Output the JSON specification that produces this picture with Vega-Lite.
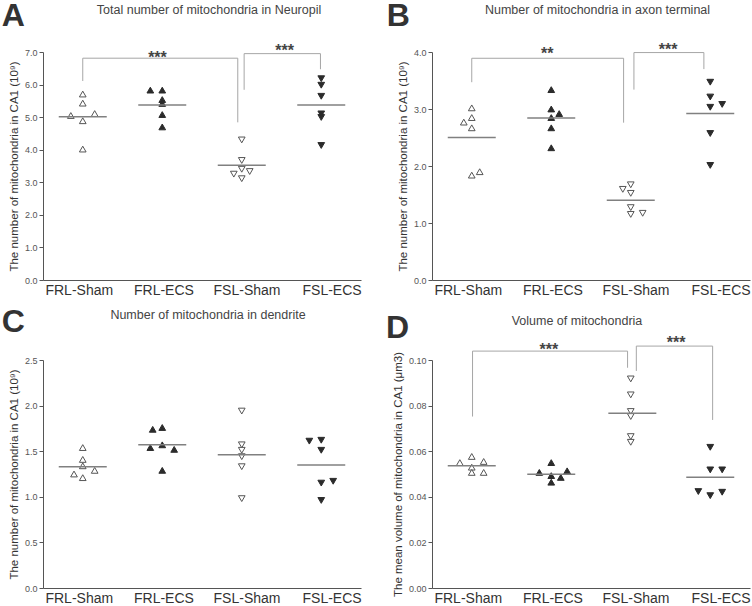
{
  "$schema": "https://vega.github.io/schema/vega-lite/v6.json",
  "padding": {"left": 1, "top": 0, "right": 0, "bottom": 0},
  "background": "white",
  "bounds": "flush",
  "columns": 2,
  "spacing": {"row": 80, "column": 71},
  "config": {
    "font": "Liberation Sans",
    "view": {"stroke": null},
    "title": {"fontSize": 12.5, "fontWeight": "normal", "color": "#444", "anchor": "middle", "frame": "group", "offset": -16},
    "axis": {"grid": false, "domainColor": "#555", "tickColor": "#555", "labelColor": "#555", "labelFont": "Liberation Sans", "titleFont": "Liberation Sans"},
    "axisY": {"labelFontSize": 9, "tickSize": 4, "labelPadding": 2, "titleFontSize": 11.5, "titleFontWeight": "normal", "titleColor": "#333", "titlePadding": 5, "labelOverlap": false, "labelBound": false},
    "axisX": {"ticks": false, "labelFontSize": 14, "labelColor": "#333", "labelPadding": 3, "labelFlush": false, "labelOverlap": false}
  },
  "datasets": {
    "points": [
      {"panel": "A", "group": "FRL-Sham", "x": 1.0, "v": 5.71},
      {"panel": "A", "group": "FRL-Sham", "x": 1.0, "v": 5.43},
      {"panel": "A", "group": "FRL-Sham", "x": 0.85, "v": 5.05},
      {"panel": "A", "group": "FRL-Sham", "x": 1.15, "v": 5.11},
      {"panel": "A", "group": "FRL-Sham", "x": 1.0, "v": 4.89},
      {"panel": "A", "group": "FRL-Sham", "x": 1.0, "v": 4.02},
      {"panel": "A", "group": "FRL-ECS", "x": 1.85, "v": 5.83},
      {"panel": "A", "group": "FRL-ECS", "x": 2.0, "v": 5.83},
      {"panel": "A", "group": "FRL-ECS", "x": 2.0, "v": 5.54},
      {"panel": "A", "group": "FRL-ECS", "x": 2.0, "v": 5.42},
      {"panel": "A", "group": "FRL-ECS", "x": 2.0, "v": 5.08},
      {"panel": "A", "group": "FRL-ECS", "x": 2.0, "v": 4.7},
      {"panel": "A", "group": "FSL-Sham", "x": 3.0, "v": 4.3},
      {"panel": "A", "group": "FSL-Sham", "x": 3.0, "v": 3.67},
      {"panel": "A", "group": "FSL-Sham", "x": 3.0, "v": 3.4},
      {"panel": "A", "group": "FSL-Sham", "x": 3.1, "v": 3.33},
      {"panel": "A", "group": "FSL-Sham", "x": 2.9, "v": 3.25},
      {"panel": "A", "group": "FSL-Sham", "x": 3.0, "v": 3.11},
      {"panel": "A", "group": "FSL-ECS", "x": 4.0, "v": 6.18},
      {"panel": "A", "group": "FSL-ECS", "x": 4.0, "v": 5.98},
      {"panel": "A", "group": "FSL-ECS", "x": 4.0, "v": 5.64},
      {"panel": "A", "group": "FSL-ECS", "x": 4.0, "v": 5.1},
      {"panel": "A", "group": "FSL-ECS", "x": 4.0, "v": 4.99},
      {"panel": "A", "group": "FSL-ECS", "x": 4.0, "v": 4.13},
      {"panel": "B", "group": "FRL-Sham", "x": 1.0, "v": 3.02},
      {"panel": "B", "group": "FRL-Sham", "x": 1.0, "v": 2.85},
      {"panel": "B", "group": "FRL-Sham", "x": 0.9, "v": 2.77},
      {"panel": "B", "group": "FRL-Sham", "x": 1.0, "v": 2.67},
      {"panel": "B", "group": "FRL-Sham", "x": 1.0, "v": 1.84},
      {"panel": "B", "group": "FRL-Sham", "x": 1.1, "v": 1.9},
      {"panel": "B", "group": "FRL-ECS", "x": 2.0, "v": 3.34},
      {"panel": "B", "group": "FRL-ECS", "x": 2.0, "v": 3.0},
      {"panel": "B", "group": "FRL-ECS", "x": 2.1, "v": 2.92},
      {"panel": "B", "group": "FRL-ECS", "x": 2.0, "v": 2.85},
      {"panel": "B", "group": "FRL-ECS", "x": 2.0, "v": 2.67},
      {"panel": "B", "group": "FRL-ECS", "x": 2.0, "v": 2.32},
      {"panel": "B", "group": "FSL-Sham", "x": 3.0, "v": 1.67},
      {"panel": "B", "group": "FSL-Sham", "x": 2.9, "v": 1.59},
      {"panel": "B", "group": "FSL-Sham", "x": 3.0, "v": 1.52},
      {"panel": "B", "group": "FSL-Sham", "x": 3.0, "v": 1.27},
      {"panel": "B", "group": "FSL-Sham", "x": 3.0, "v": 1.15},
      {"panel": "B", "group": "FSL-Sham", "x": 3.15, "v": 1.17},
      {"panel": "B", "group": "FSL-ECS", "x": 4.0, "v": 3.47},
      {"panel": "B", "group": "FSL-ECS", "x": 4.0, "v": 3.21},
      {"panel": "B", "group": "FSL-ECS", "x": 4.0, "v": 3.03},
      {"panel": "B", "group": "FSL-ECS", "x": 4.15, "v": 3.08},
      {"panel": "B", "group": "FSL-ECS", "x": 4.0, "v": 2.57},
      {"panel": "B", "group": "FSL-ECS", "x": 4.0, "v": 2.01},
      {"panel": "C", "group": "FRL-Sham", "x": 1.0, "v": 1.54},
      {"panel": "C", "group": "FRL-Sham", "x": 1.0, "v": 1.41},
      {"panel": "C", "group": "FRL-Sham", "x": 1.0, "v": 1.34},
      {"panel": "C", "group": "FRL-Sham", "x": 0.89, "v": 1.25},
      {"panel": "C", "group": "FRL-Sham", "x": 1.0, "v": 1.21},
      {"panel": "C", "group": "FRL-Sham", "x": 1.15, "v": 1.29},
      {"panel": "C", "group": "FRL-ECS", "x": 1.88, "v": 1.74},
      {"panel": "C", "group": "FRL-ECS", "x": 2.0, "v": 1.76},
      {"panel": "C", "group": "FRL-ECS", "x": 1.85, "v": 1.54},
      {"panel": "C", "group": "FRL-ECS", "x": 2.0, "v": 1.57},
      {"panel": "C", "group": "FRL-ECS", "x": 2.15, "v": 1.52},
      {"panel": "C", "group": "FRL-ECS", "x": 2.0, "v": 1.29},
      {"panel": "C", "group": "FSL-Sham", "x": 3.0, "v": 1.94},
      {"panel": "C", "group": "FSL-Sham", "x": 3.0, "v": 1.57},
      {"panel": "C", "group": "FSL-Sham", "x": 3.0, "v": 1.51},
      {"panel": "C", "group": "FSL-Sham", "x": 3.0, "v": 1.44},
      {"panel": "C", "group": "FSL-Sham", "x": 3.0, "v": 1.33},
      {"panel": "C", "group": "FSL-Sham", "x": 3.0, "v": 0.98},
      {"panel": "C", "group": "FSL-ECS", "x": 3.85, "v": 1.61},
      {"panel": "C", "group": "FSL-ECS", "x": 4.0, "v": 1.62},
      {"panel": "C", "group": "FSL-ECS", "x": 4.0, "v": 1.51},
      {"panel": "C", "group": "FSL-ECS", "x": 4.0, "v": 1.15},
      {"panel": "C", "group": "FSL-ECS", "x": 4.15, "v": 1.17},
      {"panel": "C", "group": "FSL-ECS", "x": 4.0, "v": 0.96},
      {"panel": "D", "group": "FRL-Sham", "x": 0.85, "v": 0.055},
      {"panel": "D", "group": "FRL-Sham", "x": 1.0, "v": 0.0577},
      {"panel": "D", "group": "FRL-Sham", "x": 1.15, "v": 0.0555},
      {"panel": "D", "group": "FRL-Sham", "x": 1.0, "v": 0.053},
      {"panel": "D", "group": "FRL-Sham", "x": 1.0, "v": 0.0507},
      {"panel": "D", "group": "FRL-Sham", "x": 1.15, "v": 0.0507},
      {"panel": "D", "group": "FRL-ECS", "x": 1.85, "v": 0.0507},
      {"panel": "D", "group": "FRL-ECS", "x": 2.0, "v": 0.055},
      {"panel": "D", "group": "FRL-ECS", "x": 2.0, "v": 0.0493},
      {"panel": "D", "group": "FRL-ECS", "x": 2.12, "v": 0.0485},
      {"panel": "D", "group": "FRL-ECS", "x": 2.2, "v": 0.0514},
      {"panel": "D", "group": "FRL-ECS", "x": 2.0, "v": 0.0464},
      {"panel": "D", "group": "FSL-Sham", "x": 3.0, "v": 0.0917},
      {"panel": "D", "group": "FSL-Sham", "x": 3.0, "v": 0.0847},
      {"panel": "D", "group": "FSL-Sham", "x": 3.0, "v": 0.0774},
      {"panel": "D", "group": "FSL-Sham", "x": 3.0, "v": 0.0752},
      {"panel": "D", "group": "FSL-Sham", "x": 3.0, "v": 0.0664},
      {"panel": "D", "group": "FSL-Sham", "x": 3.0, "v": 0.0639},
      {"panel": "D", "group": "FSL-ECS", "x": 4.0, "v": 0.0617},
      {"panel": "D", "group": "FSL-ECS", "x": 4.0, "v": 0.0518},
      {"panel": "D", "group": "FSL-ECS", "x": 4.15, "v": 0.0518},
      {"panel": "D", "group": "FSL-ECS", "x": 3.85, "v": 0.0423},
      {"panel": "D", "group": "FSL-ECS", "x": 4.0, "v": 0.0405},
      {"panel": "D", "group": "FSL-ECS", "x": 4.15, "v": 0.042}
    ],
    "means": [
      {"panel": "A", "x": 1, "v": 5.01}, {"panel": "A", "x": 2, "v": 5.37}, {"panel": "A", "x": 3, "v": 3.52}, {"panel": "A", "x": 4, "v": 5.37},
      {"panel": "B", "x": 1, "v": 2.5}, {"panel": "B", "x": 2, "v": 2.84}, {"panel": "B", "x": 3, "v": 1.4}, {"panel": "B", "x": 4, "v": 2.92},
      {"panel": "C", "x": 1, "v": 1.33}, {"panel": "C", "x": 2, "v": 1.57}, {"panel": "C", "x": 3, "v": 1.46}, {"panel": "C", "x": 4, "v": 1.35},
      {"panel": "D", "x": 1, "v": 0.0536}, {"panel": "D", "x": 2, "v": 0.0499}, {"panel": "D", "x": 3.02, "v": 0.0766}, {"panel": "D", "x": 4, "v": 0.0486}
    ],
    "brackets": [
      {"panel": "A", "id": "A1", "seq": 1, "x": 1.0, "v": 6.11},
      {"panel": "A", "id": "A1", "seq": 2, "x": 1.0, "v": 6.81},
      {"panel": "A", "id": "A1", "seq": 3, "x": 2.95, "v": 6.81},
      {"panel": "A", "id": "A1", "seq": 4, "x": 2.95, "v": 4.84},
      {"panel": "A", "id": "A2", "seq": 1, "x": 3.03, "v": 5.84},
      {"panel": "A", "id": "A2", "seq": 2, "x": 3.03, "v": 6.95},
      {"panel": "A", "id": "A2", "seq": 3, "x": 3.99, "v": 6.95},
      {"panel": "A", "id": "A2", "seq": 4, "x": 3.99, "v": 6.47},
      {"panel": "B", "id": "B1", "seq": 1, "x": 1.0, "v": 3.47},
      {"panel": "B", "id": "B1", "seq": 2, "x": 1.0, "v": 3.89},
      {"panel": "B", "id": "B1", "seq": 3, "x": 2.91, "v": 3.89},
      {"panel": "B", "id": "B1", "seq": 4, "x": 2.91, "v": 2.76},
      {"panel": "B", "id": "B2", "seq": 1, "x": 3.04, "v": 3.34},
      {"panel": "B", "id": "B2", "seq": 2, "x": 3.04, "v": 3.99},
      {"panel": "B", "id": "B2", "seq": 3, "x": 3.92, "v": 3.99},
      {"panel": "B", "id": "B2", "seq": 4, "x": 3.92, "v": 3.7},
      {"panel": "D", "id": "D1", "seq": 1, "x": 1.01, "v": 0.0752},
      {"panel": "D", "id": "D1", "seq": 2, "x": 1.01, "v": 0.1039},
      {"panel": "D", "id": "D1", "seq": 3, "x": 2.96, "v": 0.1039},
      {"panel": "D", "id": "D1", "seq": 4, "x": 2.96, "v": 0.0966},
      {"panel": "D", "id": "D2", "seq": 1, "x": 3.07, "v": 0.0952},
      {"panel": "D", "id": "D2", "seq": 2, "x": 3.07, "v": 0.1061},
      {"panel": "D", "id": "D2", "seq": 3, "x": 4.03, "v": 0.1061},
      {"panel": "D", "id": "D2", "seq": 4, "x": 4.03, "v": 0.0737}
    ],
    "stars": [
      {"panel": "A", "x": 1.94, "v": 6.66, "label": "***"},
      {"panel": "A", "x": 3.54, "v": 6.89, "label": "***"},
      {"panel": "B", "x": 1.95, "v": 3.87, "label": "**"},
      {"panel": "B", "x": 3.47, "v": 3.95, "label": "***"},
      {"panel": "D", "x": 1.97, "v": 0.1022, "label": "***"},
      {"panel": "D", "x": 3.57, "v": 0.1052, "label": "***"}
    ],
    "letters": [
      {"panel": "A", "x": -0.02, "v": 7.79, "label": "A"},
      {"panel": "B", "x": -0.07, "v": 4.45, "label": "B"},
      {"panel": "C", "x": -0.02, "v": 2.81, "label": "C"},
      {"panel": "D", "x": -0.08, "v": 0.1098, "label": "D"}
    ]
  },
  "concat": [
    {
      "width": 318, "height": 228,
      "title": {"text": "Total number of mitochondria in Neuropil", "dx": 7},
      "layer": [
        {"data": {"name": "points"}, "transform": [{"filter": "datum.panel === 'A'"}],
         "mark": {"type": "point", "size": 45, "strokeWidth": 1, "opacity": 1},
         "encoding": {
           "x": {"field": "x", "type": "quantitative", "scale": {"domain": [0.5, 4.5], "nice": false, "zero": false},
                 "axis": {"title": null, "values": [0.95, 2.015, 3.06, 4.13], "labelExpr": "['','FRL-Sham','FRL-ECS','FSL-Sham','FSL-ECS'][round(datum.value)]"}},
           "y": {"field": "v", "type": "quantitative", "scale": {"domain": [0, 7], "nice": false},
                 "axis": {"title": "The number of mitochondria in CA1 (10⁹)", "values": [0, 1, 2, 3, 4, 5, 6, 7], "tickCount": 8, "format": ".1f", "labelOverlap": false, "labelBound": false}},
           "shape": {"field": "group", "scale": {"domain": ["FRL-Sham", "FRL-ECS", "FSL-Sham", "FSL-ECS"], "range": ["triangle-up", "triangle-up", "triangle-down", "triangle-down"]}, "legend": null},
           "fill": {"field": "group", "scale": {"domain": ["FRL-Sham", "FRL-ECS", "FSL-Sham", "FSL-ECS"], "range": ["#ffffff", "#2b2b2b", "#ffffff", "#2b2b2b"]}, "legend": null},
           "stroke": {"field": "group", "scale": {"domain": ["FRL-Sham", "FRL-ECS", "FSL-Sham", "FSL-ECS"], "range": ["#555555", "#2b2b2b", "#555555", "#2b2b2b"]}, "legend": null}
         }},
        {"data": {"name": "brackets"}, "transform": [{"filter": "datum.panel === 'A'"}],
         "mark": {"type": "line", "color": "#a6a6a6", "strokeWidth": 1},
         "encoding": {"x": {"field": "x", "type": "quantitative"}, "y": {"field": "v", "type": "quantitative"}, "detail": {"field": "id"}, "order": {"field": "seq"}}},
        {"data": {"name": "means"}, "transform": [{"filter": "datum.panel === 'A'"}],
         "mark": {"type": "tick", "orient": "horizontal", "size": 48, "thickness": 1.5, "color": "#808080", "opacity": 1},
         "encoding": {"x": {"field": "x", "type": "quantitative"}, "y": {"field": "v", "type": "quantitative"}}},
        {"data": {"name": "stars"}, "transform": [{"filter": "datum.panel === 'A'"}],
         "mark": {"type": "text", "fontSize": 16, "fontWeight": "bold", "color": "#444", "align": "center", "baseline": "alphabetic"},
         "encoding": {"x": {"field": "x", "type": "quantitative"}, "y": {"field": "v", "type": "quantitative"}, "text": {"field": "label"}}},
        {"data": {"name": "letters"}, "transform": [{"filter": "datum.panel === 'A'"}],
         "mark": {"type": "text", "fontSize": 32, "fontWeight": "bold", "color": "#333", "align": "left", "baseline": "alphabetic"},
         "encoding": {"x": {"field": "x", "type": "quantitative"}, "y": {"field": "v", "type": "quantitative"}, "text": {"field": "label"}}}
      ]
    },
    {
      "width": 318, "height": 228,
      "title": {"text": "Number of mitochondria in axon terminal", "dx": 6.5},
      "layer": [
        {"data": {"name": "points"}, "transform": [{"filter": "datum.panel === 'B'"}],
         "mark": {"type": "point", "size": 45, "strokeWidth": 1, "opacity": 1},
         "encoding": {
           "x": {"field": "x", "type": "quantitative", "scale": {"domain": [0.5, 4.5], "nice": false, "zero": false},
                 "axis": {"title": null, "values": [0.95, 2.015, 3.06, 4.13], "labelExpr": "['','FRL-Sham','FRL-ECS','FSL-Sham','FSL-ECS'][round(datum.value)]"}},
           "y": {"field": "v", "type": "quantitative", "scale": {"domain": [0, 4], "nice": false},
                 "axis": {"title": "The number of mitochondria in CA1 (10⁹)", "values": [0, 1, 2, 3, 4], "format": ".1f", "labelOverlap": false}},
           "shape": {"field": "group", "scale": {"domain": ["FRL-Sham", "FRL-ECS", "FSL-Sham", "FSL-ECS"], "range": ["triangle-up", "triangle-up", "triangle-down", "triangle-down"]}, "legend": null},
           "fill": {"field": "group", "scale": {"domain": ["FRL-Sham", "FRL-ECS", "FSL-Sham", "FSL-ECS"], "range": ["#ffffff", "#2b2b2b", "#ffffff", "#2b2b2b"]}, "legend": null},
           "stroke": {"field": "group", "scale": {"domain": ["FRL-Sham", "FRL-ECS", "FSL-Sham", "FSL-ECS"], "range": ["#555555", "#2b2b2b", "#555555", "#2b2b2b"]}, "legend": null}
         }},
        {"data": {"name": "brackets"}, "transform": [{"filter": "datum.panel === 'B'"}],
         "mark": {"type": "line", "color": "#a6a6a6", "strokeWidth": 1},
         "encoding": {"x": {"field": "x", "type": "quantitative"}, "y": {"field": "v", "type": "quantitative"}, "detail": {"field": "id"}, "order": {"field": "seq"}}},
        {"data": {"name": "means"}, "transform": [{"filter": "datum.panel === 'B'"}],
         "mark": {"type": "tick", "orient": "horizontal", "size": 48, "thickness": 1.5, "color": "#808080", "opacity": 1},
         "encoding": {"x": {"field": "x", "type": "quantitative"}, "y": {"field": "v", "type": "quantitative"}}},
        {"data": {"name": "stars"}, "transform": [{"filter": "datum.panel === 'B'"}],
         "mark": {"type": "text", "fontSize": 16, "fontWeight": "bold", "color": "#444", "align": "center", "baseline": "alphabetic"},
         "encoding": {"x": {"field": "x", "type": "quantitative"}, "y": {"field": "v", "type": "quantitative"}, "text": {"field": "label"}}},
        {"data": {"name": "letters"}, "transform": [{"filter": "datum.panel === 'B'"}],
         "mark": {"type": "text", "fontSize": 32, "fontWeight": "bold", "color": "#333", "align": "left", "baseline": "alphabetic"},
         "encoding": {"x": {"field": "x", "type": "quantitative"}, "y": {"field": "v", "type": "quantitative"}, "text": {"field": "label"}}}
      ]
    },
    {
      "width": 318, "height": 228,
      "title": {"text": "Number of mitochondria in dendrite", "dx": 6},
      "layer": [
        {"data": {"name": "points"}, "transform": [{"filter": "datum.panel === 'C'"}],
         "mark": {"type": "point", "size": 45, "strokeWidth": 1, "opacity": 1},
         "encoding": {
           "x": {"field": "x", "type": "quantitative", "scale": {"domain": [0.5, 4.5], "nice": false, "zero": false},
                 "axis": {"title": null, "values": [0.95, 2.015, 3.06, 4.13], "labelExpr": "['','FRL-Sham','FRL-ECS','FSL-Sham','FSL-ECS'][round(datum.value)]"}},
           "y": {"field": "v", "type": "quantitative", "scale": {"domain": [0, 2.5], "nice": false},
                 "axis": {"title": "The number of mitochondria in CA1 (10⁹)", "values": [0, 0.5, 1, 1.5, 2, 2.5], "format": ".1f", "labelOverlap": false}},
           "shape": {"field": "group", "scale": {"domain": ["FRL-Sham", "FRL-ECS", "FSL-Sham", "FSL-ECS"], "range": ["triangle-up", "triangle-up", "triangle-down", "triangle-down"]}, "legend": null},
           "fill": {"field": "group", "scale": {"domain": ["FRL-Sham", "FRL-ECS", "FSL-Sham", "FSL-ECS"], "range": ["#ffffff", "#2b2b2b", "#ffffff", "#2b2b2b"]}, "legend": null},
           "stroke": {"field": "group", "scale": {"domain": ["FRL-Sham", "FRL-ECS", "FSL-Sham", "FSL-ECS"], "range": ["#555555", "#2b2b2b", "#555555", "#2b2b2b"]}, "legend": null}
         }},
        {"data": {"name": "means"}, "transform": [{"filter": "datum.panel === 'C'"}],
         "mark": {"type": "tick", "orient": "horizontal", "size": 48, "thickness": 1.5, "color": "#808080", "opacity": 1},
         "encoding": {"x": {"field": "x", "type": "quantitative"}, "y": {"field": "v", "type": "quantitative"}}},
        {"data": {"name": "letters"}, "transform": [{"filter": "datum.panel === 'C'"}],
         "mark": {"type": "text", "fontSize": 32, "fontWeight": "bold", "color": "#333", "align": "left", "baseline": "alphabetic"},
         "encoding": {"x": {"field": "x", "type": "quantitative"}, "y": {"field": "v", "type": "quantitative"}, "text": {"field": "label"}}}
      ]
    },
    {
      "width": 318, "height": 228,
      "title": {"text": "Volume of mitochondria", "dx": -14},
      "layer": [
        {"data": {"name": "points"}, "transform": [{"filter": "datum.panel === 'D'"}],
         "mark": {"type": "point", "size": 45, "strokeWidth": 1, "opacity": 1},
         "encoding": {
           "x": {"field": "x", "type": "quantitative", "scale": {"domain": [0.5, 4.5], "nice": false, "zero": false},
                 "axis": {"title": null, "values": [0.95, 2.015, 3.06, 4.13], "labelExpr": "['','FRL-Sham','FRL-ECS','FSL-Sham','FSL-ECS'][round(datum.value)]"}},
           "y": {"field": "v", "type": "quantitative", "scale": {"domain": [0, 0.1], "nice": false},
                 "axis": {"title": "The mean volume of mitochondria in CA1 (μm3)", "values": [0, 0.02, 0.04, 0.06, 0.08, 0.1], "format": ".2f", "labelOverlap": false}},
           "shape": {"field": "group", "scale": {"domain": ["FRL-Sham", "FRL-ECS", "FSL-Sham", "FSL-ECS"], "range": ["triangle-up", "triangle-up", "triangle-down", "triangle-down"]}, "legend": null},
           "fill": {"field": "group", "scale": {"domain": ["FRL-Sham", "FRL-ECS", "FSL-Sham", "FSL-ECS"], "range": ["#ffffff", "#2b2b2b", "#ffffff", "#2b2b2b"]}, "legend": null},
           "stroke": {"field": "group", "scale": {"domain": ["FRL-Sham", "FRL-ECS", "FSL-Sham", "FSL-ECS"], "range": ["#555555", "#2b2b2b", "#555555", "#2b2b2b"]}, "legend": null}
         }},
        {"data": {"name": "brackets"}, "transform": [{"filter": "datum.panel === 'D'"}],
         "mark": {"type": "line", "color": "#a6a6a6", "strokeWidth": 1},
         "encoding": {"x": {"field": "x", "type": "quantitative"}, "y": {"field": "v", "type": "quantitative"}, "detail": {"field": "id"}, "order": {"field": "seq"}}},
        {"data": {"name": "means"}, "transform": [{"filter": "datum.panel === 'D'"}],
         "mark": {"type": "tick", "orient": "horizontal", "size": 48, "thickness": 1.5, "color": "#808080", "opacity": 1},
         "encoding": {"x": {"field": "x", "type": "quantitative"}, "y": {"field": "v", "type": "quantitative"}}},
        {"data": {"name": "stars"}, "transform": [{"filter": "datum.panel === 'D'"}],
         "mark": {"type": "text", "fontSize": 16, "fontWeight": "bold", "color": "#444", "align": "center", "baseline": "alphabetic"},
         "encoding": {"x": {"field": "x", "type": "quantitative"}, "y": {"field": "v", "type": "quantitative"}, "text": {"field": "label"}}},
        {"data": {"name": "letters"}, "transform": [{"filter": "datum.panel === 'D'"}],
         "mark": {"type": "text", "fontSize": 32, "fontWeight": "bold", "color": "#333", "align": "left", "baseline": "alphabetic"},
         "encoding": {"x": {"field": "x", "type": "quantitative"}, "y": {"field": "v", "type": "quantitative"}, "text": {"field": "label"}}}
      ]
    }
  ]
}
